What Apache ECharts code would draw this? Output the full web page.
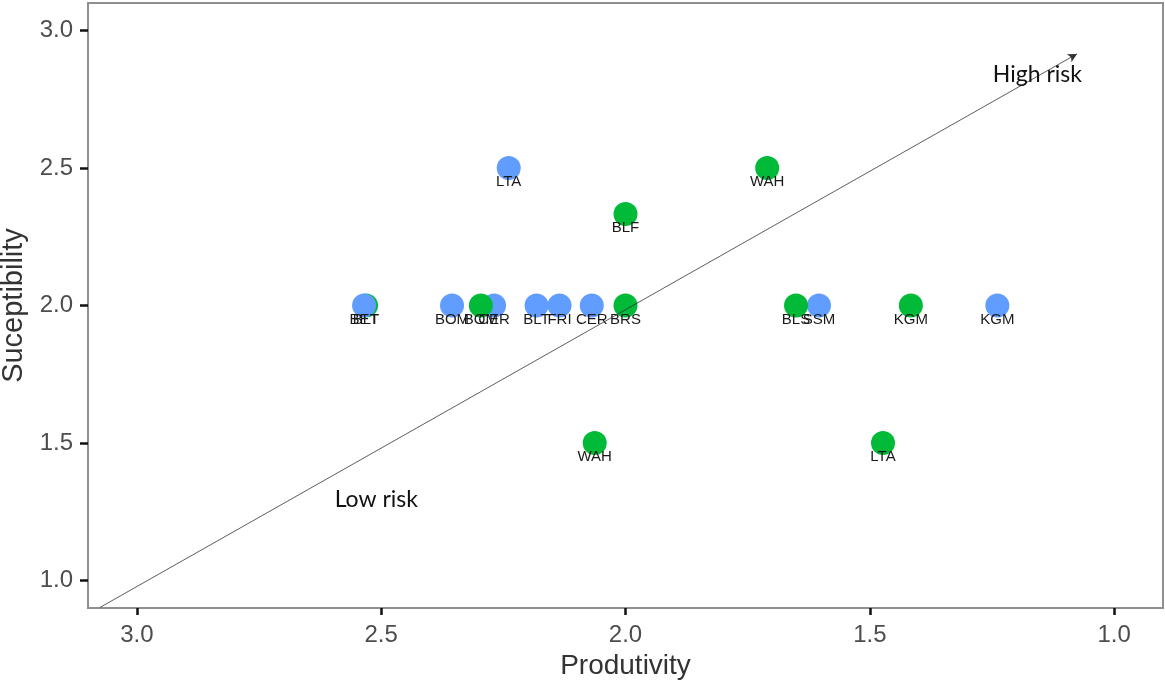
<!DOCTYPE html>
<html><head><meta charset="utf-8">
<script src="https://cdn.jsdelivr.net/npm/echarts@6/dist/echarts.min.js"></script>
<style>html,body{margin:0;padding:0;background:#fff}#c{width:1165px;height:680px}</style>
</head><body><div id="c"></div>
<script>
// point data (drawing order)
const names = ['BLT','BET','BOM','CER','BOM','BLT','FRI','CER','BRS','BLF','WAH','LTA','SSM','BLS','KGM','KGM','WAH','LTA'];
const prod  = [2.531,2.535,2.355,2.269,2.296,2.182,2.135,2.069,2.000,2.000,1.710,2.239,1.604,1.651,1.416,1.239,2.063,1.473];
const susc  = [2.0,2.0,2.0,2.0,2.0,2.0,2.0,2.0,2.0,2.333,2.5,2.5,2.0,2.0,2.0,2.0,1.5,1.5];
const group = ['g','b','b','b','g','b','b','b','g','g','g','b','b','g','g','b','g','g'];
const tickVals = [1.0,1.5,2.0,2.5,3.0];
const riskLine = [[3.0755,0.902],[1.076,2.915]];
const riskLabels = [{name:'High risk',coord:[1.157,2.840]},{name:'Low risk',coord:[2.510,1.294]}];
const colors = {b:'#619CFF', g:'#00BA38'};

const data = names.map((n,i)=>({name:n, value:[prod[i],susc[i]], itemStyle:{color:colors[group[i]],opacity:1}}));
const fmt = v => tickVals.some(t=>Math.abs(t-v)<1e-6) ? Number(v).toFixed(1) : '';
const chart = echarts.init(document.getElementById('c'));
chart.setOption({
  animation:false,
  grid:{left:88,right:2,top:3,bottom:72,outerBoundsMode:'none',containLabel:false,show:true,borderColor:'#8f8f8f',borderWidth:2,backgroundColor:'#fff'},
  xAxis:{type:'value',inverse:true,min:0.9,max:3.1,interval:0.1,
    name:'Produtivity',nameLocation:'middle',nameGap:40,
    nameTextStyle:{fontFamily:'Liberation Sans',fontSize:28,color:'#333'},
    splitLine:{show:false},axisLine:{show:false},
    axisTick:{show:true,length:7,lineStyle:{color:'#111',width:2.5},customValues:tickVals},
    axisLabel:{formatter:fmt,margin:15,fontFamily:'Liberation Sans',fontSize:24,color:'#4d4d4d',hideOverlap:false}},
  yAxis:{type:'value',min:0.9,max:3.1,interval:0.1,
    name:'Suceptibility',nameLocation:'middle',nameGap:49,
    nameTextStyle:{fontFamily:'Liberation Sans',fontSize:29,color:'#333'},
    splitLine:{show:false},axisLine:{show:false},
    axisTick:{show:true,length:8,lineStyle:{color:'#111',width:2.5},customValues:tickVals},
    axisLabel:{formatter:fmt,margin:15,fontFamily:'Liberation Sans',fontSize:24,color:'#4d4d4d',hideOverlap:false}},
  series:[{
    type:'scatter',symbol:'circle',symbolSize:24,data:data,
    itemStyle:{opacity:1},
    label:{show:true,position:'inside',offset:[0,14],formatter:p=>p.name,fontFamily:'Liberation Sans',fontSize:15,color:'#1a1a1a'},
    markLine:{silent:true,symbol:['none','arrow'],symbolSize:[7,9],
      lineStyle:{color:'#333',width:0.8,type:'solid'},label:{show:false},
      data:[[{coord:riskLine[0]},{coord:riskLine[1]}]]},
    markPoint:{symbolSize:0,silent:true,
      label:{show:true,position:'inside',formatter:p=>p.name,fontFamily:'Lato',fontSize:23,color:'#111'},
      data:riskLabels.map(r=>({name:r.name,coord:r.coord}))}
  }]
});
</script></body></html>
